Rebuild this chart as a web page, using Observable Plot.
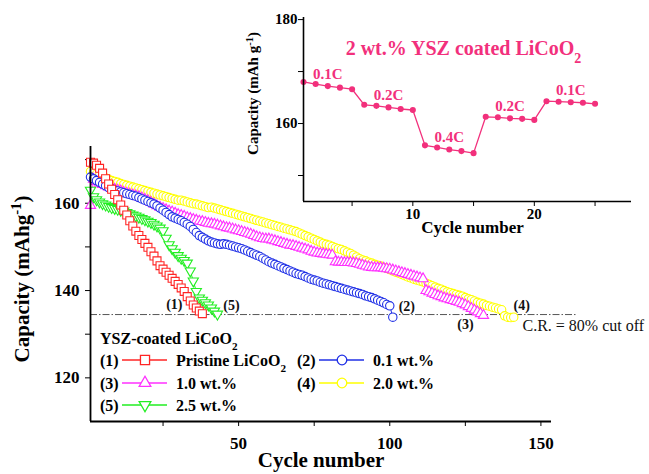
<!DOCTYPE html>
<html><head><meta charset="utf-8">
<script src="https://cdn.jsdelivr.net/npm/d3@7"></script>
<script src="https://cdn.jsdelivr.net/npm/@observablehq/plot@0.6"></script>
<style>
html,body{margin:0;padding:0;background:#fff;}
#wrap{position:relative;width:649px;height:474px;overflow:hidden;}
#wrap > svg{position:absolute;}
</style></head><body><div id="wrap"></div>
<script>
// ---------- DATA (capacity, mAh/g, one value per cycle starting at cycle 1) ----------
const pristineCap = [169.4,169.2,168.7,168.0,166.9,165.6,164.4,163.2,162.0,160.8,159.6,158.4,157.3,156.0,154.8,153.6,152.6,151.7,150.8,149.9,148.9,147.9,146.8,145.7,144.9,144.2,143.5,142.8,142.1,141.4,140.6,139.8,138.6,137.6,136.7,136.0,135.3,134.7];
const wt01Cap = [166.0,165.6,165.2,164.8,164.4,164.0,163.6,163.3,
 163.0,162.8,162.6,162.4,162.2,162.0,161.8,161.6,
 161.3,161.0,160.7,160.4,160.1,159.8,
 159.4,158.9,158.4,157.9,157.4,156.9,156.6,
 156.3,156.0,155.6,155.2,154.7,154.0,153.3,152.6,
 152.2,151.8,151.4,151.1,150.9,150.7,150.6,150.7,150.6,
 150.4,150.2,150.0,149.8,149.6,149.3,149.0,148.7,148.4,148.1,147.8,
 147.4,147.0,146.6,146.3,146.0,145.7,145.4,145.1,144.8,144.5,144.2,143.9,143.7,
 143.5,143.2,142.9,142.6,142.4,142.2,141.9,141.7,141.5,141.3,141.1,140.9,140.7,140.5,140.3,
 140.1,139.9,139.7,139.5,139.3,139.1,138.8,138.6,138.4,138.1,137.8,137.5,137.2,136.8,136.5,133.9];
const wt10Cap = [159.5,165.5,165.0,164.6,164.3,164.0,163.7,163.5,
 163.2,163.0,162.8,162.5,162.3,162.1,161.9,161.7,
 161.5,161.2,160.9,160.6,160.2,159.8,159.4,159.1,
 158.8,158.5,158.2,158.0,157.7,157.4,157.2,157.0,156.7,
 156.5,156.3,156.1,155.9,155.8,155.6,155.4,155.3,155.2,
 155.0,154.8,154.6,154.4,154.3,154.1,153.9,153.7,
 153.5,153.3,153.1,152.9,152.6,152.3,152.1,
 151.9,151.8,151.8,151.6,151.4,151.2,151.0,150.8,150.6,
 150.4,150.3,150.1,149.9,149.7,149.5,149.3,149.0,148.8,
 148.6,148.5,148.4,148.3,148.2,148.1,146.6,146.5,
 146.5,146.4,146.4,146.4,146.3,146.2,146.0,145.8,145.6,145.4,145.3,145.2,
 145.2,145.2,145.1,145.0,144.9,144.7,144.5,144.3,144.1,143.9,143.7,143.5,143.3,143.1,142.9,
 142.7,140.0,139.7,139.4,139.1,138.8,138.6,138.3,138.1,137.9,
 137.7,137.5,137.3,137.0,136.7,136.3,135.9,135.5,135.1,134.7,134.3];
const wt20Cap = [167.3,167.0,166.7,166.4,166.1,165.8,165.5,165.2,165.0,164.8,
 164.5,164.3,164.1,163.9,163.7,163.5,163.3,163.1,162.9,162.7,
 162.5,162.3,162.1,161.9,161.7,161.5,161.3,161.1,160.9,160.7,
 160.7,160.5,160.3,160.1,159.9,159.8,159.6,159.4,159.2,159.0,
 159.1,158.9,158.7,158.5,158.3,158.1,157.9,157.7,157.5,157.3,
 157.1,156.9,156.7,156.5,156.3,156.1,155.9,155.7,155.5,155.3,
 155.1,154.9,154.7,154.5,154.3,154.1,153.9,153.7,153.5,153.2,
 152.9,152.6,152.3,152.0,151.7,151.4,151.1,150.8,150.6,150.4,
 150.1,149.8,149.6,149.4,149.1,148.8,148.5,148.1,147.7,147.3,
 147.0,146.8,146.5,146.3,146.0,145.8,145.6,145.3,145.1,144.8,
 144.5,144.2,144.0,143.7,143.4,143.1,142.9,142.6,142.4,142.2,
 142.0,141.7,141.4,141.1,140.8,140.5,140.3,140.0,139.7,139.5,
 139.3,139.1,138.9,138.7,138.4,138.1,137.9,137.6,137.3,137.1,
 136.9,136.6,136.4,136.2,136.0,135.8,135.6,134.2,133.9,133.8,133.9];
const wt25Cap = [163.0,161.5,160.8,160.3,159.9,159.6,159.3,159.0,158.8,158.6,
 158.4,158.2,157.9,157.6,157.3,157.1,156.8,156.5,156.2,155.9,
 155.6,155.2,154.8,154.3,153.7,152.0,150.5,149.6,148.8,148.0,
 147.4,146.9,146.3,144.5,142.2,139.8,138.3,137.8,137.2,136.7,
 136.0,135.3,134.6];
const seriesKeys   = ["(1)", "(2)", "(3)", "(4)", "(5)"];
const seriesNames  = ["Pristine LiCoO_{2}", "0.1 wt.%", "1.0 wt.%", "2.0 wt.%", "2.5 wt.%"];
const cutoffCap = 134.5;   // C.R. = 80% cut off
const cutoffText = "C.R. = 80% cut off";
const legendTitle = "YSZ-coated LiCoO_{2}";

// inset: rate capability of 2 wt.% YSZ coated LiCoO2
const rateCap = [168.0,167.6,167.2,166.9,166.6, 163.6,163.4,163.1,162.8,162.6,
 155.8,155.4,155.0,154.7,154.3, 161.3,161.2,161.0,160.9,160.7, 164.3,164.2,164.1,164.0,163.8];
const rateLabels = ["0.1C","0.2C","0.4C","0.2C","0.1C"];
const insetTitle = "2 wt.% YSZ coated LiCoO_{2}";

// ---------- STYLE ----------
const SERIF = "'Liberation Serif','Times New Roman',serif";
const PINK = "#f2307c";
const triangleDown = {draw(ctx, size){ const s3 = Math.sqrt(3); const y = -Math.sqrt(size/(s3*3)); ctx.moveTo(0,-2*y); ctx.lineTo(-s3*y, y); ctx.lineTo(s3*y, y); ctx.closePath(); }};
const styles = {
  "(1)": {values: pristineCap, color:"#ff2424", symbol:"square", r:4.5, dx:-28, dy:-9},
  "(2)": {values: wt01Cap, color:"#2030e6", symbol:"circle", r:4.2, dx:14, dy:-11},
  "(3)": {values: wt10Cap, color:"#ff30ff", symbol:"triangle", r:3.8, dx:-18, dy:9},
  "(4)": {values: wt20Cap, color:"#ffff00", symbol:"circle", r:4.2, dx:8, dy:-12},
  "(5)": {values: wt25Cap, color:"#22ee22", symbol:triangleDown, r:3.8, dx:14, dy:-9}
};
const drawOrder = ["(4)", "(3)", "(2)", "(5)", "(1)"];

function rows(values){ return values.map((v,i)=>({cycle:i+1, cap:v})); }

function richify(root){
  d3.select(root).selectAll("text").each(function(){
    const s = this.textContent;
    if (!/[_^]\{/.test(s)) return;
    const node = d3.select(this); node.text(null);
    s.split(/([_^]\{[^}]*\})/).forEach(p => {
      if (!p) return;
      if (p[1] === "{" && (p[0] === "_" || p[0] === "^")) {
        node.append("tspan").attr("baseline-shift", p[0] === "_" ? "sub" : "super")
          .attr("font-size", "70%").text(p.slice(2, -1));
      } else node.append("tspan").text(p);
    });
  });
}

// ---------- MAIN CHART ----------
const marks = [];
marks.push(Plot.ruleY([cutoffCap], {x1: 1, x2: 162, stroke:"#555", strokeWidth:1, strokeDasharray:"7,2,1.5,2"}));
for (const k of drawOrder) {
  const s = styles[k], data = rows(s.values);
  marks.push(Plot.line(data, {x:"cycle", y:"cap", stroke:s.color, strokeWidth:1}));
  marks.push(Plot.dot(data, {x:"cycle", y:"cap", symbol:s.symbol, r:s.r, stroke:s.color, fill:"white", strokeWidth:1.1}));
}
for (const k of seriesKeys) {
  const s = styles[k], data = rows(s.values);
  marks.push(Plot.text([data[data.length-1]], {x:"cycle", y:"cap", text:()=>k, dx:s.dx, dy:s.dy, fontSize:14, fontWeight:"bold", fill:"#111"}));
}
marks.push(Plot.text([cutoffText], {x:143.9, y:131.9, text:d=>d, textAnchor:"start", fontSize:16, fontWeight:"normal", fill:"#111"}));
marks.push(Plot.ruleY([110], {stroke:"#000", strokeWidth:1.8}));
marks.push(Plot.ruleX([1], {stroke:"#000", strokeWidth:1.8}));
marks.push(Plot.text(["Cycle number"], {frameAnchor:"bottom", dy:45, fontSize:21, fontWeight:"bold", fill:"#000"}));
marks.push(Plot.text(["Capacity (mAhg^{-1})"], {frameAnchor:"left", textAnchor:"middle", dx:-68, dy:-5, rotate:-90, fontSize:21, fontWeight:"bold", fill:"#000"}));

const main = Plot.plot({
  width:649, height:474, marginLeft:90, marginRight:98, marginTop:146, marginBottom:53,
  x:{domain:[1,153.5], ticks:[25,50,75,100,125,150], tickFormat:d => d % 50 === 0 ? String(d) : "", tickSize:5, tickPadding:10, label:null},
  y:{domain:[110,173], ticks:[120,130,140,150,160,170], tickFormat:d => d % 20 === 0 ? String(d) : "", tickSize:5, tickPadding:6, label:null},
  style:{fontFamily:SERIF, fontSize:"17px", fontWeight:"bold", color:"#000", background:"transparent", overflow:"visible"},
  marks
});
main.style.left = "0px"; main.style.top = "0px";
richify(main);
document.getElementById("wrap").appendChild(main);

// ---------- INSET ----------
const rateRows = rateCap.map((v,i)=>({cycle:i+1, cap:v}));
const groupSize = rateCap.length / rateLabels.length;
const labelRows = rateLabels.map((lab,g)=>{ const mid = rateRows[g*groupSize + Math.floor(groupSize/2)]; return {cycle: mid.cycle, cap: mid.cap, lab}; });
const inset = Plot.plot({
  width:429, height:250, marginLeft:83, marginRight:18, marginTop:17, marginBottom:49,
  x:{domain:[1,28], ticks:[5,10,15,20,25], tickFormat:d => d % 10 === 0 ? String(d) : "", tickSize:5, tickPadding:2, label:null},
  y:{domain:[145,180.4], ticks:[150,160,170,180], tickFormat:d => d % 20 === 0 ? String(d) : "", tickSize:5, tickPadding:1, label:null},
  style:{fontFamily:SERIF, fontSize:"15px", fontWeight:"bold", color:"#000", background:"transparent", overflow:"visible"},
  marks:[
    Plot.line(rateRows, {x:"cycle", y:"cap", stroke:PINK, strokeWidth:1.3}),
    Plot.dot(rateRows, {x:"cycle", y:"cap", r:2.3, fill:PINK, stroke:PINK}),
    Plot.text(labelRows, {x:"cycle", y:"cap", text:"lab", dy:-12, fontSize:15, fontWeight:"bold", fill:PINK}),
    Plot.text([insetTitle], {frameAnchor:"top", dx:-4, dy:23, fontSize:20, fontWeight:"bold", fill:PINK}),
    Plot.ruleY([145], {stroke:"#000", strokeWidth:1.6}),
    Plot.ruleX([1], {stroke:"#000", strokeWidth:1.6}),
    Plot.text(["Cycle number"], {frameAnchor:"bottom", dx:5, dy:31, fontSize:17, fontWeight:"bold", fill:"#000"}),
    Plot.text(["Capacity (mAh g^{-1})"], {frameAnchor:"left", textAnchor:"middle", dx:-50, dy:-16, rotate:-90, fontSize:15, fontWeight:"bold", fill:"#000"})
  ]
});
inset.style.left = "220px"; inset.style.top = "0px";
richify(inset);
document.getElementById("wrap").appendChild(inset);

// ---------- LEGEND ----------
const leg = d3.create("svg").attr("width",649).attr("height",474)
  .style("left","0px").style("top","0px").style("pointer-events","none")
  .style("font-family", SERIF).style("font-weight","bold").style("font-size","16px");
leg.append("text").attr("x",100).attr("y",338).attr("dy","0.35em").text(legendTitle);
const legendSlots = [[0,0],[1,0],[0,1],[1,1],[0,2]];
const colX = [100, 297], rowY = [360, 383, 405];
seriesKeys.forEach((k,i)=>{
  const s = styles[k]; const [c,r] = legendSlots[i]; const x0 = colX[c], y0 = rowY[r];
  const g = leg.append("g");
  g.append("text").attr("x",x0).attr("y",y0).attr("dy","0.35em").text(k);
  g.append("line").attr("x1",x0+22).attr("x2",x0+67).attr("y1",y0).attr("y2",y0).attr("stroke",s.color).attr("stroke-width",1.5);
  const type = s.symbol === "square" ? d3.symbolSquare : s.symbol === "circle" ? d3.symbolCircle : s.symbol === "triangle" ? d3.symbolTriangle : s.symbol;
  g.append("path").attr("transform",`translate(${x0+45},${y0})`).attr("d", d3.symbol().type(type).size(Math.PI*s.r*s.r*1.3)())
    .attr("fill","white").attr("stroke",s.color).attr("stroke-width",1.3);
  g.append("text").attr("x",x0+76).attr("y",y0).attr("dy","0.35em").text(seriesNames[i]);
});
richify(leg.node());
document.getElementById("wrap").appendChild(leg.node());
</script>
</body></html>
